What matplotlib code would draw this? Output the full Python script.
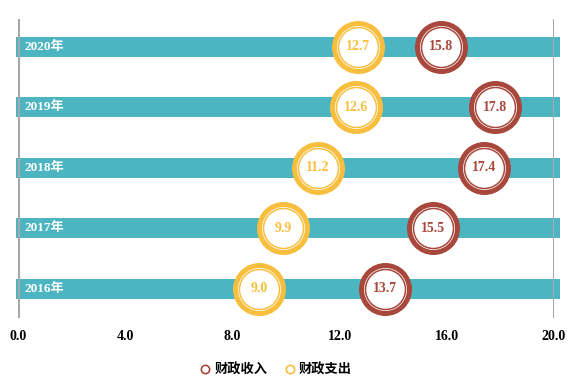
import matplotlib.pyplot as plt
from matplotlib.lines import Line2D

# data
years = ['2020年', '2019年', '2018年', '2017年', '2016年']
income = [15.8, 17.8, 17.4, 15.5, 13.7]    # 财政收入
expense = [12.7, 12.6, 11.2, 9.9, 9.0]     # 财政支出
xticks = [0, 4, 8, 12, 16, 20]

teal = '#4DB4C2'
red = '#A8473B'
yellow = '#F8BF3E'
gray = '#A8A8A8'

serif = ['Liberation Serif', 'Noto Sans CJK SC']
cjk = ['Noto Sans CJK SC', 'DejaVu Sans']

fig = plt.figure(figsize=(5.8, 3.89), dpi=100)
ax = fig.add_axes([18 / 580, 71 / 389, 536 / 580, 299 / 389])
ax.set_xlim(0, 20)
ax.set_ylim(4.48, -0.46)

rows = list(range(len(years)))

# background bars
ax.barh(rows, 20.3, left=-0.08, height=0.33, color=teal, zorder=1, clip_on=False)
ax.axvline(0, color=gray, lw=2.2, zorder=2)
ax.axvline(20, color=gray, lw=2.2, zorder=2)

for r, y in zip(rows, years):
    ax.text(0.25, r, y, color='white', fontsize=9.5, fontweight='bold',
            family=serif, va='center', ha='left', zorder=3)


def px(d):
    return (d * 0.72) ** 2


def badges(values, color):
    ax.scatter(values, rows, s=px(53), color=color, zorder=4, linewidths=0)
    ax.scatter(values, rows, s=px(43), color='white', zorder=5, linewidths=0)
    ax.scatter(values, rows, s=px(40), facecolor='white', edgecolor=color,
               linewidths=1.1, zorder=6)
    for v, r in zip(values, rows):
        ax.text(v, r, f'{v:.1f}', color=color, fontsize=10, fontweight='bold',
                family=serif, ha='center', va='center', zorder=7)


badges(expense, yellow)
badges(income, red)

ax.set_xticks(xticks)
ax.set_xticklabels([f'{t:.1f}' for t in xticks], fontsize=10, fontweight='bold',
                   family=serif)
ax.tick_params(axis='x', length=0, pad=9)
ax.set_yticks([])
for s in ax.spines.values():
    s.set_visible(False)

handles = [
    Line2D([], [], marker='o', ls='none', markersize=6, markerfacecolor='white',
           markeredgecolor=red, markeredgewidth=1.2, label='财政收入'),
    Line2D([], [], marker='o', ls='none', markersize=6, markerfacecolor='white',
           markeredgecolor=yellow, markeredgewidth=1.2, label='财政支出'),
]
fig.legend(handles=handles, loc='center', bbox_to_anchor=(276 / 580, 1 - 370 / 389),
           ncol=2, frameon=False, prop={'family': cjk, 'size': 9.5, 'weight': 'bold'},
           handlelength=0.8, handletextpad=0.3, columnspacing=1.3)

fig.savefig('out.png', dpi=100)
